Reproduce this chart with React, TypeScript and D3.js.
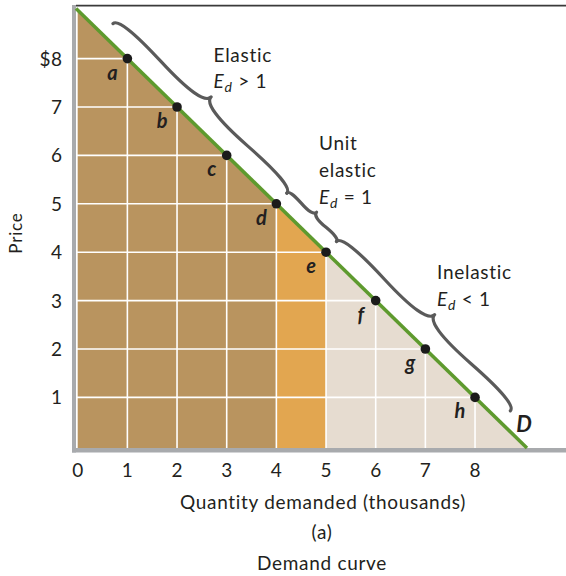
import React from "react";
import * as d3 from "d3";

// Demand curve: P = 9 - Q
const demandIntercept = 9;
const pointQuantities = [1, 2, 3, 4, 5, 6, 7, 8];
const pointPrices = [8, 7, 6, 5, 4, 3, 2, 1];
const pointLabels = ["a", "b", "c", "d", "e", "f", "g", "h"];
const xTickValues = [0, 1, 2, 3, 4, 5, 6, 7, 8];
const xTickLabels = ["0", "1", "2", "3", "4", "5", "6", "7", "8"];
const yTickValues = [1, 2, 3, 4, 5, 6, 7, 8];
const yTickLabels = ["1", "2", "3", "4", "5", "6", "7", "$8"];
const gridValues = [1, 2, 3, 4, 5, 6, 7, 8];
// Shaded regions by quantity range
const regionBounds = [0, 4, 5, 9];
// Braces along the curve (quantity ranges)
const braceFrom = [0.5, 4, 5];
const braceTo = [4, 5, 8.5];
const braceTitles = [["Elastic"], ["Unit", "elastic"], ["Inelastic"]];
const braceRelations = [">", "=", "<"];

const FONT = "Lato, 'Open Sans', sans-serif";

function bracePath(x1: number, y1: number, x2: number, y2: number, w: number, q: number) {
  let dx = x1 - x2;
  let dy = y1 - y2;
  const len = Math.sqrt(dx * dx + dy * dy);
  dx /= len;
  dy /= len;
  const qx1 = x1 + q * w * dy;
  const qy1 = y1 - q * w * dx;
  const qx2 = x1 - 0.25 * len * dx + (1 - q) * w * dy;
  const qy2 = y1 - 0.25 * len * dy - (1 - q) * w * dx;
  const tx1 = x1 - 0.5 * len * dx + w * dy;
  const ty1 = y1 - 0.5 * len * dy - w * dx;
  const qx3 = x2 + q * w * dy;
  const qy3 = y2 - q * w * dx;
  const qx4 = x1 - 0.75 * len * dx + (1 - q) * w * dy;
  const qy4 = y1 - 0.75 * len * dy - (1 - q) * w * dx;
  return {
    d: `M ${x1} ${y1} Q ${qx1} ${qy1} ${qx2} ${qy2} T ${tx1} ${ty1} M ${x2} ${y2} Q ${qx3} ${qy3} ${qx4} ${qy4} T ${tx1} ${ty1}`,
    tip: [tx1, ty1],
  };
}

export default function App() {
  const W = 566;
  const H = 576;
  const x = d3.scaleLinear().domain([0, 9]).range([77.7, 524.7]);
  const y = d3.scaleLinear().domain([0, 9]).range([445.8, 10.2]);
  const demand = (q: number) => demandIntercept - q;

  const plotLeft = 76;
  const plotBottom = 448;
  const leftQ = x.invert(plotLeft);
  const bottomP = y.invert(plotBottom);
  const endQ = demandIntercept - bottomP;

  const line = d3
    .line<[number, number]>()
    .x((d) => x(d[0]))
    .y((d) => y(d[1]));

  const regionColors = ["#b9945f", "#e2a650", "#e6dcd0"];
  const regions = regionBounds.slice(0, -1).map((q0, i) => {
    const a = Math.max(q0, leftQ);
    const b = Math.min(regionBounds[i + 1], endQ);
    const pts: [number, number][] = [
      [a, bottomP],
      [a, demand(a)],
      [b, demand(b)],
      [b, bottomP],
    ];
    return { d: line(pts) + "Z", color: regionColors[i] };
  });

  // perpendicular (up-right) unit normal in pixel space
  const ux = x(1) - x(0);
  const uy = y(0) - y(1);
  const ul = Math.hypot(ux, uy);
  const nx = uy / ul;
  const ny = -ux / ul;
  const baseOff = 15;

  const braces = braceFrom.map((q0, i) => {
    const q1 = braceTo[i];
    const sx = x(q0) + nx * baseOff;
    const sy = y(demand(q0)) + ny * baseOff;
    const ex = x(q1) + nx * baseOff;
    const ey = y(demand(q1)) + ny * baseOff;
    const w = q1 - q0 < 2 ? 7 : 16;
    return bracePath(ex, ey, sx, sy, w, 0.6);
  });

  const LS = 0.7;

  return (
    <svg width={W} height={H} style={{ display: "block", position: "absolute", left: 0, top: 0 }} fontFamily={FONT}>
      <rect x={0} y={0} width={W} height={H} fill="#ffffff" />
      {regions.map((r, i) => (
        <path key={i} d={r.d} fill={r.color} />
      ))}
      {/* gridlines */}
      {gridValues.map((q) => (
        <line key={"v" + q} x1={x(q)} x2={x(q)} y1={plotBottom} y2={y(demand(q))} stroke="#ffffff" strokeWidth={1.6} />
      ))}
      {gridValues.map((p) => (
        <line key={"h" + p} x1={plotLeft} x2={x(demand(p))} y1={y(p)} y2={y(p)} stroke="#ffffff" strokeWidth={1.6} />
      ))}
      {/* frame */}
      <line x1={plotLeft} x2={W} y1={5.6} y2={5.6} stroke="#3a3a3a" strokeWidth={1.6} />
      <rect x={72} y={5} width={4} height={447.5} fill="#a8aaad" />
      <rect x={72} y={448} width={W - 72} height={4.5} fill="#a8aaad" />
      {/* demand curve */}
      <path d={line([[leftQ, demand(leftQ)], [endQ, bottomP]]) || ""} stroke="#5e9a2e" strokeWidth={3.5} fill="none" />
      {/* braces */}
      {braces.map((b, i) => (
        <path key={"b" + i} d={b.d} fill="none" stroke="#5a5a5a" strokeWidth={3.2} strokeLinecap="round" strokeLinejoin="round" />
      ))}
      {braces.map((b, i) => {
        const tx = b.tip[0] + 2.5;
        const lastY = b.tip[1] - 8.5;
        const titles = braceTitles[i];
        const lh = 26.7;
        return (
          <g key={"bt" + i} fontSize={19} fill="#231f20" letterSpacing={LS}>
            {titles.map((t, j) => (
              <text key={j} x={tx} y={lastY - (titles.length - j) * lh}>
                {t}
              </text>
            ))}
            <text x={tx} y={lastY}>
              <tspan fontStyle="italic">E</tspan>
              <tspan fontStyle="italic" fontSize={14} dy={4}>d</tspan>
              <tspan dy={-4}>{" " + braceRelations[i] + "  1"}</tspan>
            </text>
          </g>
        );
      })}
      {/* points */}
      {pointQuantities.map((q, i) => (
        <circle key={"p" + i} cx={x(q)} cy={y(pointPrices[i])} r={4.8} fill="#1b1b1b" />
      ))}
      {pointQuantities.map((q, i) => (
        <text
          key={"l" + i}
          x={x(q) - 15}
          y={y(pointPrices[i]) + 21}
          fontSize={20}
          fontWeight="bold"
          fontStyle="italic"
          textAnchor="middle"
          fill="#231f20"
        >
          {pointLabels[i]}
        </text>
      ))}
      <text x={x(endQ) - 3} y={432} fontSize={22} fontWeight="bold" fontStyle="italic" textAnchor="middle" fill="#231f20">
        D
      </text>
      {/* axes labels */}
      {xTickValues.map((v, i) => (
        <text key={"xt" + i} x={x(v)} y={477} fontSize={19} textAnchor="middle" fill="#231f20">
          {xTickLabels[i]}
        </text>
      ))}
      {yTickValues.map((v, i) => (
        <text key={"yt" + i} x={62.5} y={y(v) + 7} fontSize={19} textAnchor="end" fill="#231f20" letterSpacing={0.5}>
          {yTickLabels[i]}
        </text>
      ))}
      <text x={15} y={233} fontSize={17} textAnchor="middle" dominantBaseline="central" transform="rotate(-90 15 233)" fill="#231f20" letterSpacing={0.8}>
        Price
      </text>
      <g fontSize={19} fill="#231f20" letterSpacing={LS} textAnchor="middle">
        <text x={323} y={509}>Quantity demanded (thousands)</text>
        <text x={322} y={539}>(a)</text>
        <text x={322} y={570}>Demand curve</text>
      </g>
    </svg>
  );
}
